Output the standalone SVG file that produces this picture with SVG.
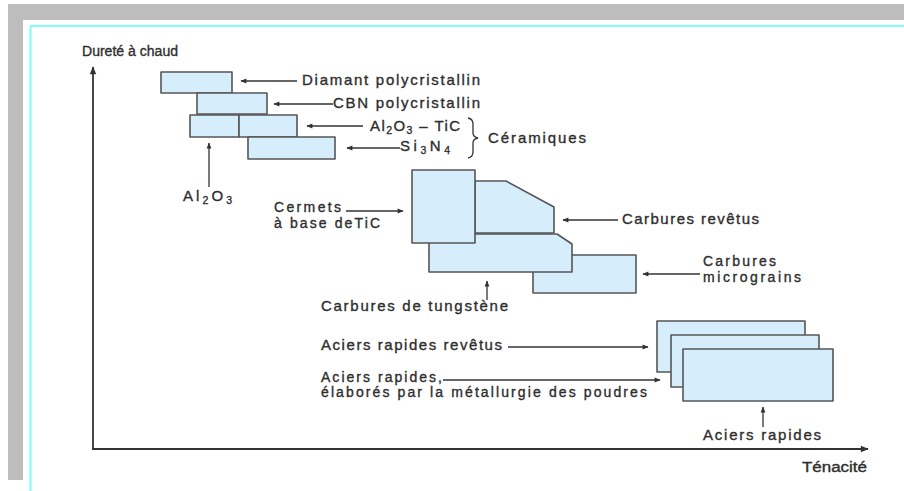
<svg xmlns="http://www.w3.org/2000/svg" width="904" height="491" viewBox="0 0 904 491">
<style>
.t{font-family:"Liberation Sans",Arial,sans-serif;font-size:15px;fill:#2e2e2e;stroke:#2e2e2e;stroke-width:0.35}
.m{font-size:14px}
.s{font-size:10.5px}
.box{fill:#d6eefb;stroke:#555;stroke-width:1.6;stroke-linejoin:round}
.ln{stroke:#333;stroke-width:1.3;fill:none}
.ax{stroke:#333;stroke-width:1.8;fill:none}
</style>
<defs>
<marker id="ah" viewBox="0 0 10 10" refX="9" refY="5" markerWidth="7" markerHeight="6" markerUnits="userSpaceOnUse" orient="auto"><path d="M0,1 L10,5 L0,9 Z" fill="#333"/></marker>
<marker id="ahb" viewBox="0 0 10 10" refX="9" refY="5" markerWidth="12" markerHeight="8" markerUnits="userSpaceOnUse" orient="auto"><path d="M0,1 L10,5 L0,9 Z" fill="#333"/></marker>
</defs>
<rect x="0" y="0" width="904" height="491" fill="#fff"/>
<g id="frame">
<rect x="8" y="4" width="896" height="16" fill="#bdbdbd"/>
<rect x="8" y="4" width="15" height="476" fill="#bdbdbd"/>
<line x1="30" y1="26" x2="904" y2="26" stroke="#80ffff" stroke-width="2.2"/>
<line x1="30.5" y1="26" x2="30.5" y2="491" stroke="#80ffff" stroke-width="2.2"/>
</g>
<g id="axes">
<line class="ax" x1="93" y1="449" x2="93" y2="67" marker-end="url(#ahb)"/>
<line class="ax" x1="92" y1="449" x2="868" y2="449" marker-end="url(#ahb)"/>
<text class="t m" x="82" y="56" textLength="96" lengthAdjust="spacingAndGlyphs">Dureté à chaud</text>
<text class="t m" x="802" y="472" textLength="65" lengthAdjust="spacingAndGlyphs">Ténacité</text>
</g>
<g id="n-diamant"><rect class="box" x="161" y="72" width="71" height="21"/></g>
<g id="n-cbn"><rect class="box" x="197" y="93" width="70" height="21"/></g>
<g id="n-al2o3"><rect class="box" x="190" y="115" width="49" height="22"/></g>
<g id="n-al2o3tic"><rect class="box" x="239" y="115" width="58" height="22"/></g>
<g id="n-si3n4"><rect class="box" x="248" y="137" width="87" height="22"/></g>
<g id="n-micrograins"><rect class="box" x="533" y="255" width="103" height="38"/></g>
<g id="n-tungstene"><polygon class="box" points="429,234 557,234 572,244 572,272 429,272"/></g>
<g id="n-revetus"><polygon class="box" points="475,181 506,181 554,207 554,233 475,233"/></g>
<g id="n-cermets"><rect class="box" x="412" y="170" width="63" height="73"/></g>
<g id="n-aciers-revetus"><rect class="box" x="657" y="321" width="148" height="51"/></g>
<g id="n-aciers-poudres"><rect class="box" x="671" y="335" width="148" height="52"/></g>
<g id="n-aciers"><rect class="box" x="683" y="349" width="150" height="52"/></g>
<g id="connectors">
<line class="ln" x1="297" y1="81" x2="241" y2="81" marker-end="url(#ah)"/>
<line class="ln" x1="333" y1="104" x2="274" y2="104" marker-end="url(#ah)"/>
<line class="ln" x1="363" y1="126" x2="307" y2="126" marker-end="url(#ah)"/>
<line class="ln" x1="400" y1="148" x2="347" y2="148" marker-end="url(#ah)"/>
<line class="ln" x1="209" y1="187" x2="209" y2="143" marker-end="url(#ah)"/>
<path class="ln" d="M468,118 Q473,119 473,124 L473,133 Q473,137 478,138 Q473,139 473,143 L473,152 Q473,157 468,158" stroke-width="1.6"/>
<line class="ln" x1="346" y1="211" x2="403" y2="211" marker-end="url(#ah)"/>
<line class="ln" x1="618" y1="220" x2="563" y2="220" marker-end="url(#ah)"/>
<line class="ln" x1="700" y1="274" x2="643" y2="274" marker-end="url(#ah)"/>
<line class="ln" x1="487" y1="300" x2="487" y2="281" marker-end="url(#ah)"/>
<line class="ln" x1="508" y1="347" x2="648" y2="347" marker-end="url(#ah)"/>
<line class="ln" x1="443" y1="380" x2="660" y2="380" marker-end="url(#ah)"/>
<line class="ln" x1="763" y1="427" x2="763" y2="407" marker-end="url(#ah)"/>
</g>
<g id="labels">
<text class="t" x="302" y="85" textLength="178">Diamant polycristallin</text>
<text class="t" x="333" y="108" textLength="147">CBN polycristallin</text>
<text class="t" x="370" y="131" textLength="90">Al<tspan class="s" dy="3">2</tspan><tspan dy="-3">O</tspan><tspan class="s" dy="3">3</tspan><tspan dy="-3"> – TiC</tspan></text>
<text class="t" x="400" y="151" textLength="50">Si<tspan class="s" dy="3">3</tspan><tspan dy="-3">N</tspan><tspan class="s" dy="3">4</tspan></text>
<text class="t" x="488" y="143" textLength="98">Céramiques</text>
<text class="t" x="183" y="201" textLength="49">Al<tspan class="s" dy="3">2</tspan><tspan dy="-3">O</tspan><tspan class="s" dy="3">3</tspan></text>
<text class="t m" x="274" y="212" textLength="67">Cermets</text>
<text class="t m" x="274" y="228" textLength="106">à base deTiC</text>
<text class="t" x="622" y="224" textLength="137">Carbures revêtus</text>
<text class="t m" x="703" y="266" textLength="73">Carbures</text>
<text class="t m" x="703" y="282" textLength="98">micrograins</text>
<text class="t" x="321" y="311" textLength="187">Carbures de tungstène</text>
<text class="t" x="321" y="350" textLength="181">Aciers rapides revêtus</text>
<text class="t m" x="321" y="382" textLength="121">Aciers rapides,</text>
<text class="t m" x="321" y="397" textLength="326">élaborés par la métallurgie des poudres</text>
<text class="t" x="703" y="440" textLength="118">Aciers rapides</text>
</g>
</svg>
